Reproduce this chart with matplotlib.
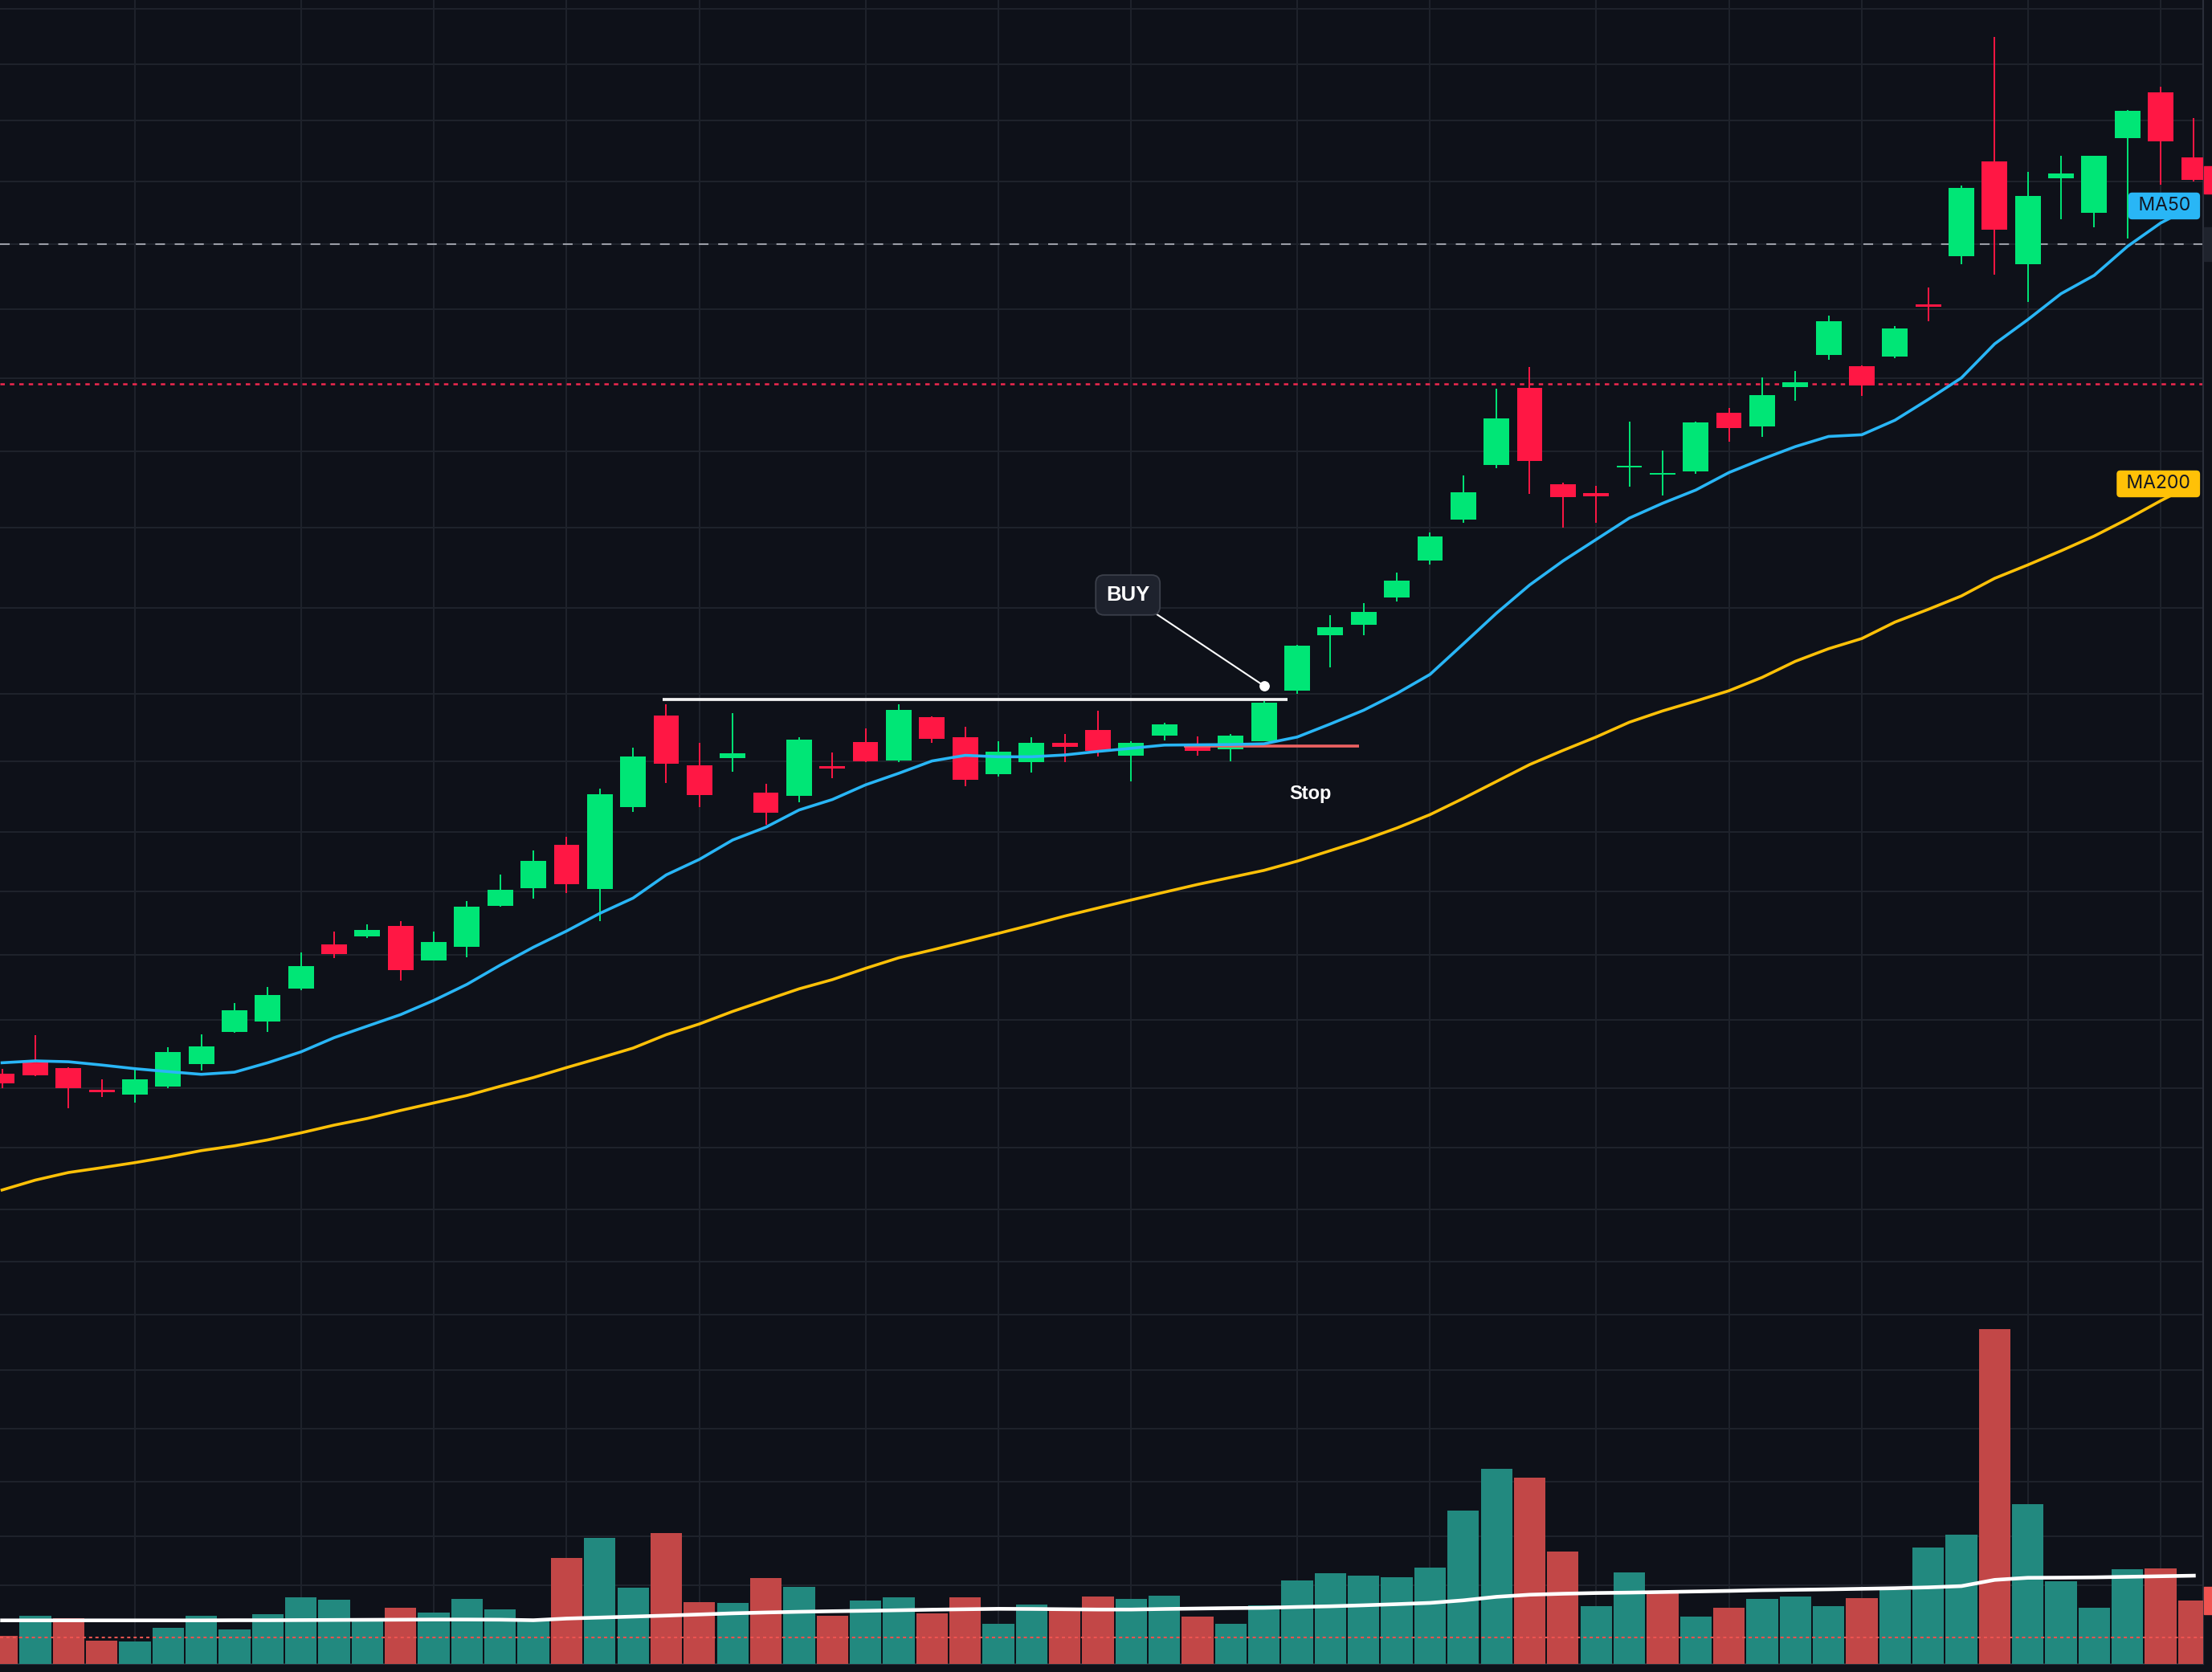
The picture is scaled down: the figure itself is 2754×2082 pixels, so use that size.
import numpy as np
import matplotlib.pyplot as plt
import matplotlib.transforms as mtransforms
from matplotlib.patches import Rectangle

plt.rcParams['font.family'] = ['Inter', 'DejaVu Sans']

# ---------------- data (one bar per session, oldest first) ----------------
opens = [109.70, 111.65, 110.70, 106.75, 106.03, 107.48, 111.45, 117.15, 119.00, 124.83,
         132.60, 134.08, 135.88, 129.80, 132.23, 139.50, 142.63, 150.28, 142.50, 157.00,
         173.20, 164.38, 165.70, 159.53, 159.00, 164.03, 168.50, 165.23, 172.90, 169.35,
         162.85, 164.98, 168.28, 170.60, 166.10, 169.65, 167.63, 167.23, 168.60, 177.58,
         187.45, 189.30, 194.13, 200.68, 207.95, 217.63, 231.25, 214.15, 212.60, 217.10,
         215.90, 216.48, 226.83, 224.45, 231.33, 237.13, 235.08, 236.75, 246.00, 254.63,
         271.38, 253.20, 268.43, 262.35, 275.58, 283.65, 272.10]
highs = [110.60, 116.52, 110.83, 108.70, 110.55, 114.40, 116.68, 122.23, 125.08, 131.18,
         134.90, 136.18, 136.73, 134.90, 140.30, 145.00, 149.25, 151.70, 160.23, 167.50,
         175.18, 168.30, 173.63, 161.10, 169.35, 166.65, 170.90, 175.18, 173.05, 171.20,
         168.63, 169.35, 169.88, 174.05, 168.70, 171.88, 169.43, 169.90, 175.68, 185.78,
         190.95, 193.10, 198.50, 205.63, 215.73, 231.05, 234.95, 214.45, 213.88, 225.25,
         220.13, 225.25, 227.68, 233.10, 234.23, 244.05, 235.18, 242.23, 249.03, 267.13,
         293.45, 269.55, 272.38, 272.43, 280.53, 284.60, 279.05]
lows = [107.13, 109.25, 103.63, 105.60, 104.63, 107.13, 110.30, 117.00, 117.15, 124.55,
        130.25, 133.80, 126.25, 129.80, 130.38, 139.30, 140.73, 141.78, 136.80, 156.15,
        161.28, 156.93, 163.28, 153.88, 157.88, 162.05, 164.98, 164.98, 168.40, 160.70,
        162.43, 163.13, 164.98, 165.98, 161.55, 168.80, 166.10, 165.10, 168.60, 177.10,
        181.75, 187.45, 193.40, 199.98, 207.38, 217.05, 212.45, 206.53, 207.38, 213.78,
        212.20, 216.05, 221.75, 222.60, 229.00, 236.28, 229.88, 236.58, 243.05, 253.20,
        251.33, 246.55, 261.18, 259.70, 257.80, 267.20, 267.85]
closes = [108.03, 109.45, 107.13, 106.50, 108.70, 113.53, 114.53, 120.93, 123.65, 128.78,
          130.95, 135.18, 128.10, 133.03, 139.30, 142.30, 147.38, 143.35, 159.25, 165.93,
          164.70, 159.15, 166.50, 156.00, 168.93, 163.85, 165.13, 174.18, 169.10, 161.85,
          166.78, 168.35, 167.70, 166.93, 168.28, 171.60, 166.95, 169.60, 175.45, 185.55,
          188.83, 191.53, 197.08, 204.90, 212.73, 225.83, 218.33, 211.93, 212.08, 217.43,
          216.15, 225.13, 224.18, 229.95, 232.20, 243.05, 231.73, 241.75, 245.65, 266.73,
          259.35, 265.25, 269.25, 272.38, 280.35, 274.98, 268.15]
prev_close = 109.0  # close of the bar just before the first visible one

volumes = [2.01, 3.41, 3.22, 1.66, 1.61, 2.58, 3.41, 2.44, 3.53, 4.74,
           4.55, 3.16, 3.98, 3.64, 4.61, 3.87, 3.05, 7.51, 8.93, 5.40,
           9.28, 4.38, 4.32, 6.09, 5.46, 3.43, 4.49, 4.72, 3.60, 4.72,
           2.84, 4.21, 3.98, 4.78, 4.61, 4.84, 3.36, 2.84, 4.15, 5.92,
           6.43, 6.26, 6.14, 6.83, 10.87, 13.83, 13.20, 7.97, 4.09, 6.49,
           5.01, 3.36, 3.98, 4.61, 4.78, 4.09, 4.66, 5.23, 8.25, 9.16,
           23.74, 11.33, 5.86, 3.98, 6.71, 6.77, 4.49]
vol_ma = [3.09, 3.09, 3.09, 3.09, 3.09, 3.09, 3.09, 3.10, 3.10, 3.11,
          3.12, 3.13, 3.14, 3.15, 3.15, 3.14, 3.10, 3.22, 3.29, 3.36,
          3.43, 3.51, 3.59, 3.65, 3.70, 3.74, 3.77, 3.81, 3.85, 3.88,
          3.91, 3.90, 3.88, 3.86, 3.86, 3.90, 3.93, 3.96, 3.98, 4.04,
          4.09, 4.16, 4.24, 4.33, 4.51, 4.76, 4.91, 4.98, 5.03, 5.06,
          5.10, 5.14, 5.18, 5.23, 5.26, 5.29, 5.33, 5.37, 5.43, 5.52,
          5.96, 6.11, 6.12, 6.14, 6.18, 6.22, 6.26]

ma50 = [111.65, 111.98, 111.83, 111.25, 110.60, 110.08, 109.60, 109.98, 111.65, 113.58,
        116.10, 118.15, 120.18, 122.70, 125.55, 128.95, 132.13, 135.00, 138.13, 140.83,
        144.95, 147.70, 151.13, 153.40, 156.45, 158.30, 160.90, 162.95, 165.13, 166.13,
        165.88, 165.88, 166.20, 166.83, 167.38, 167.95, 168.00, 168.05, 168.18, 169.38,
        171.70, 174.13, 177.10, 180.48, 185.88, 191.33, 196.33, 200.58, 204.38, 208.18,
        210.80, 213.15, 216.25, 218.63, 220.85, 222.65, 222.95, 225.53, 229.20, 233.03,
        239.05, 243.35, 247.95, 251.20, 256.33, 260.48, 263.50]
ma200 = [89.10, 90.85, 92.20, 93.05, 93.95, 94.95, 96.08, 96.93, 97.98, 99.23,
         100.60, 101.78, 103.20, 104.53, 105.85, 107.48, 109.03, 110.80, 112.50, 114.25,
         116.63, 118.53, 120.75, 122.75, 124.75, 126.38, 128.38, 130.25, 131.63, 133.10,
         134.58, 136.08, 137.65, 139.08, 140.50, 141.88, 143.25, 144.50, 145.75, 147.38,
         149.25, 151.13, 153.25, 155.63, 158.50, 161.50, 164.50, 167.00, 169.38, 172.00,
         174.00, 175.75, 177.58, 179.95, 182.80, 185.03, 186.83, 189.75, 192.00, 194.38,
         197.50, 199.88, 202.38, 205.00, 208.00, 211.25, 214.25]

# drawn levels
breakout_level = 176.1
breakout_span = (19.9, 38.7)
stop_level = 167.85
stop_span = (35.6, 40.85)
buy_bar = 38
buy_price = 178.45
alert_level = 256.78      # grey dashed
trigger_level = 231.98    # red dotted
vol_alert = 1.89

# price grid of the original chart (log-scale marks) and weekly bar marks
grid_prices = [298.5, 288.68, 278.58, 267.9, 256.78, 245.25, 232.9, 220.05, 206.55,
               192.3, 177.1, 165.13, 152.58, 142.03, 130.8, 119.25, 107.13, 96.65,
               85.68, 76.4, 66.95, 57.2, 46.8, 37.35, 27.7, 19.0]
grid_bars = [4, 9, 13, 17, 21, 26, 30, 34, 39, 43, 48, 52, 56, 61, 65]

# ---------------- style ----------------
BG = '#0e1119'
GRID = '#1f232c'
UP = '#00e676'
DOWN = '#ff1744'
VOL_UP = '#22897f'
VOL_DOWN = '#c24747'
BLUE = '#29b6f6'
YELLOW = '#ffc107'
EDGE = '#2a2e39'

W, H = 2754, 2082
fig = plt.figure(figsize=(W / 100, H / 100), dpi=100, facecolor=BG)
ax = fig.add_axes([0, 10 / H, 2743 / W, 2072 / H], facecolor=BG)

o = np.array(opens)
h = np.array(highs)
l = np.array(lows)
c = np.array(closes)
x = np.arange(len(o))

# ---- candles ----
col = np.where(c >= o, UP, DOWN)
ax.vlines(x, l, h, colors=col, lw=1.4, zorder=3)
ax.bar(x, np.maximum(np.abs(c - o), 0.3), 0.77, bottom=np.minimum(o, c),
       color=col, lw=0, zorder=4)

# ---- moving averages ----
ax.plot(x, ma50, color=BLUE, lw=2.6, zorder=6, solid_joinstyle='round')
ax.plot(x, ma200, color=YELLOW, lw=2.6, zorder=6, solid_joinstyle='round')

# ---- levels ----
ax.axhline(alert_level, color='#9a9da6', lw=1.5, dashes=(5.8, 5.8), zorder=2)
ax.axhline(trigger_level, color='#f0284f', lw=1.8, dashes=(2.2, 2.5), zorder=2)
ax.hlines(breakout_level, *breakout_span, color='#f2f2f2', lw=2.7, zorder=7)
ax.hlines(stop_level, *stop_span, color='#ee6262', lw=2.6, zorder=5)
ax.text(stop_span[1] - 1.45, stop_level - 8.6, 'Stop', ha='center', va='center',
        fontsize=17, fontweight='bold', family='Liberation Sans', color='white', zorder=9)

# ---- BUY callout ----
ax.annotate('BUY', xy=(buy_bar, buy_price), xytext=(buy_bar - 4.1, buy_price + 16.1),
            ha='center', va='center', fontsize=18.5, fontweight='bold',
            family='Liberation Sans', color='white', zorder=9,
            bbox=dict(boxstyle='round,pad=0.5,rounding_size=0.4', fc='#1e222d',
                      ec='#3b3f4a', lw=1.3),
            arrowprops=dict(arrowstyle='-', color='white', lw=1.5, shrinkA=0, shrinkB=0))
ax.plot(buy_bar, buy_price, 'o', ms=8.2, color='white', zorder=10)

# ---- MA tags on the right edge ----
tag = mtransforms.blended_transform_factory(ax.transAxes, ax.transData)
for val, name, fc in ((ma50[-1], ' MA50 ', BLUE), (ma200[-1], ' MA200 ', YELLOW)):
    ax.text(0.9965, val, name, transform=tag, ha='right', va='center',
            fontsize=16.5, color='#131722', zorder=11,
            bbox=dict(boxstyle='round,pad=0.25,rounding_size=0.2', fc=fc, ec='none'))

# ---- axes cosmetics ----
ax.set_xlim(-0.062, 66.28)
ax.set_ylim(5.1, 300)
ax.set_xticks(grid_bars)
ax.set_yticks(grid_prices)
ax.tick_params(length=0, labelleft=False, labelbottom=False)
ax.grid(True, color=GRID, lw=1.4)
for s in ax.spines.values():
    s.set_visible(False)
for side in ('right', 'bottom'):
    ax.spines[side].set_visible(True)
    ax.spines[side].set_color(EDGE)
    ax.spines[side].set_linewidth(1.5)

# ---- volume overlay ----
axv = ax.twinx()
axv.set_ylim(0, 117.96)
prior = np.r_[prev_close, c[:-1]]
vcol = np.where(c >= prior, VOL_UP, VOL_DOWN)
axv.bar(x, volumes, 0.95, color=vcol, lw=0, zorder=2)
axv.plot(x, vol_ma, color='white', lw=3.3, zorder=4)
axv.axhline(vol_alert, color='#ef5350', lw=1.5, dashes=(1.9, 1.9), zorder=5)
axv.set_yticks([])
axv.tick_params(length=0, labelright=False)
for s in axv.spines.values():
    s.set_visible(False)

# ---- clipped price-scale tags at the far right ----
strip = mtransforms.blended_transform_factory(fig.transFigure, ax.transData)
ax.add_patch(Rectangle((2744 / W, c[-1] - 2.42), 1, 4.84, transform=strip,
                       color=DOWN, clip_on=False, zorder=12))
ax.add_patch(Rectangle((2744 / W, alert_level - 3.0), 1, 6.0, transform=strip,
                       color='#1f232d', clip_on=False, zorder=12))
vstrip = mtransforms.blended_transform_factory(fig.transFigure, axv.transData)
axv.add_patch(Rectangle((2744 / W, volumes[-1] - 0.95), 1, 1.9, transform=vstrip,
                        color='#ef5350', clip_on=False, zorder=12))

fig.savefig('out.png', dpi=100, facecolor=BG)
